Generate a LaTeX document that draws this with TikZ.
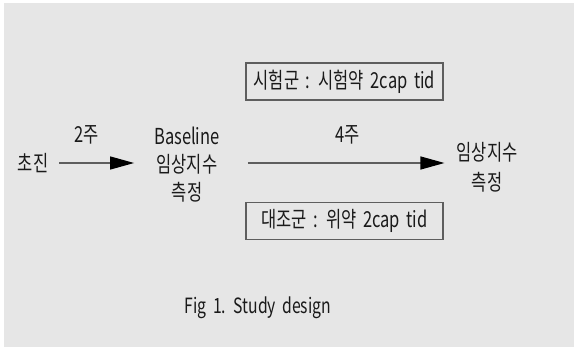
\documentclass[tikz,border=0pt]{standalone}
\usepackage{fontspec}
\setmainfont{Noto Sans CJK KR}[FakeStretch=0.75, WordSpace=1.8]
\usetikzlibrary{positioning}
\usetikzlibrary{arrows.meta}
\definecolor{bggray}{HTML}{E6E6E6}
\definecolor{linegray}{HTML}{5E5E5E}
\definecolor{txtblack}{HTML}{1A1A1A}
\tikzset{
    mytext/.style = {align=center,inner sep=0,text=txtblack,font=\fontsize{22}{28}\selectfont},
    mytextr/.style = {align=center,inner sep=0,text=txtblack,font=\fontsize{22}{30}\selectfont},
    mybox/.style = {rectangle, draw=linegray, line width=1.2pt, minimum width=197pt, minimum height=37pt, inner sep=0,text=txtblack,font=\fontsize{22}{24}\selectfont},
    mycap/.style = {inner sep=0,text=txtblack,font=\fontsize{21}{24}\selectfont},
    edgea/.style = {-{Triangle[length=24pt,width=13pt,color=black]},line width=1.3pt,linegray}
}
\begin{document}
\begin{tikzpicture}[x=1pt,y=-1pt]
\useasboundingbox (0,0) rectangle (574,348);
\fill[bggray] (4,3) rectangle (574,347);

\node[mytext] at ( 33, 163) (cj) {초진};
\node[mytext] at (187, 165) (base) {Baseline\\임상지수\\측정};
\node[mytextr] at (487, 167) (fin) {임상지수\\측정};

\node[mybox] at (344.5, 81.5) (trt) {시험군 : 시험약 2cap tid};
\node[mybox] at (344.5, 221) (ctl) {대조군 : 위약 2cap tid};

\node[mytext] at ( 87, 135) (w2) {2주};
\node[mytext] at (348, 135) (w4) {4주};

\draw[edgea, shorten <=11pt, shorten >=20pt] (cj.east) -- (cj.east -| base.west);
\draw[edgea, shorten <=28pt, shorten >=12pt] (base.east |- cj.east) -- (fin.west |- cj.east);

\node[mycap] at (258, 308) (cap) {Fig 1. Study design};

\end{tikzpicture}
\end{document}
